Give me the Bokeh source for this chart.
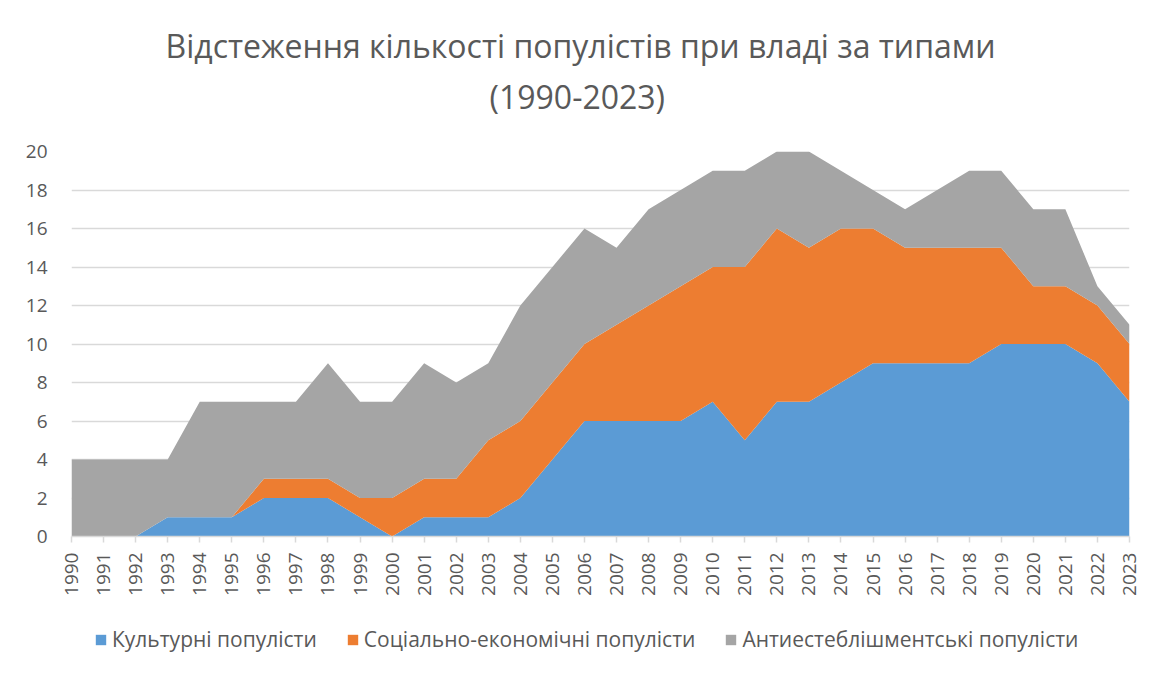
from bokeh.plotting import figure
from bokeh.models import ColumnDataSource, FixedTicker, Title, Legend, Range1d
from bokeh.layouts import column
from bokeh.embed import file_html
from bokeh.resources import INLINE
import math

years = list(range(1990, 2024))
cultural = [0, 0, 0, 1, 1, 1, 2, 2, 2, 1, 0, 1, 1, 1, 2, 4, 6, 6, 6, 6,
            7, 5, 7, 7, 8, 9, 9, 9, 9, 10, 10, 10, 9, 7]
socioeconomic = [0, 0, 0, 0, 0, 0, 1, 1, 1, 1, 2, 2, 2, 4, 4, 4, 4, 5, 6, 7,
                 7, 9, 9, 8, 8, 7, 6, 6, 6, 5, 3, 3, 3, 3]
anti_establishment = [4, 4, 4, 3, 6, 6, 4, 4, 6, 5, 5, 6, 5, 4, 6, 6, 6, 4, 5, 5,
                      5, 5, 4, 5, 3, 2, 2, 3, 4, 4, 4, 4, 1, 1]
series_names = ["Культурні популісти", "Соціально-економічні популісти",
                "Антиестеблішментські популісти"]
title_lines = ["Відстеження кількості популістів при владі за типами", "(1990-2023)"]
y_ticks = list(range(0, 21, 2))

FONT = "Open Sans"
TXT = "#595959"
GRID = "#d9d9d9"
colors = ["#5B9BD5", "#ED7D31", "#A5A5A5"]

source = ColumnDataSource(dict(year=years, cult=cultural, socio=socioeconomic,
                               anti=anti_establishment))

p = figure(frame_width=1058, frame_height=385, output_backend="svg", toolbar_location=None,
           x_range=Range1d(1990, 2023), y_range=Range1d(0, 20),
           min_border_left=71, min_border_right=21, min_border_top=151,
           min_border_bottom=84)

renderers = p.varea_stack(stackers=["cult", "socio", "anti"], x="year", color=colors,
                          source=source)

p.background_fill_color = "white"
p.border_fill_color = "white"
p.outline_line_color = None

# title (two lines)
t2 = Title(text=title_lines[1], align="left", text_font=FONT, text_font_size="32px",
           text_color=TXT, text_font_style="normal", standoff=67, offset=418)
t1 = Title(text=title_lines[0], align="left", text_font=FONT, text_font_size="32px",
           text_color=TXT, text_font_style="normal", standoff=-55, offset=94)
p.add_layout(t2, "above")
p.add_layout(t1, "above")

# axes
p.xaxis.ticker = FixedTicker(ticks=years)
p.xaxis.major_label_orientation = math.pi / 2
p.xaxis.major_label_text_font = FONT
p.xaxis.major_label_text_font_size = "19px"
p.xaxis.major_label_text_color = TXT
p.xaxis.axis_line_color = GRID
p.xaxis.axis_line_width = 1.5
p.xaxis.major_tick_line_color = GRID
p.xaxis.major_tick_line_width = 1.5
p.xaxis.major_tick_in = 0
p.xaxis.major_tick_out = 6
p.xaxis.minor_tick_line_color = None
p.xaxis.major_label_standoff = 10

p.yaxis.ticker = FixedTicker(ticks=y_ticks)
p.yaxis.major_label_text_font = FONT
p.yaxis.major_label_text_font_size = "19px"
p.yaxis.major_label_text_color = TXT
p.yaxis.axis_line_color = None
p.yaxis.major_tick_line_color = None
p.yaxis.minor_tick_line_color = None
p.yaxis.major_label_standoff = 18

p.xgrid.grid_line_color = None
p.ygrid.grid_line_color = GRID
p.ygrid.grid_line_width = 1.5
p.ygrid.ticker = FixedTicker(ticks=y_ticks)

# legend strip below the chart
p2 = figure(width=1150, height=47, output_backend="svg", toolbar_location=None,
            x_range=Range1d(0, 1), y_range=Range1d(0, 1),
            x_axis_type=None, y_axis_type=None,
            min_border_left=0, min_border_right=0, min_border_top=0, min_border_bottom=0)
p2.outline_line_color = None
p2.xgrid.visible = False
p2.ygrid.visible = False
leg_renderers = p2.varea_stack(stackers=["cult", "socio", "anti"], x="year",
                               color=colors, source=source)
legend = Legend(items=[(n, [r]) for n, r in zip(series_names, leg_renderers)],
                orientation="horizontal", location=(23, 14),
                label_text_font=FONT, label_text_font_size="21px",
                label_text_color=TXT, glyph_width=13, glyph_height=13,
                spacing=29, label_standoff=5, border_line_color=None,
                background_fill_alpha=0, padding=0, margin=0)
p2.add_layout(legend, "center")

open("out.html", "w").write(file_html(column(p, p2, spacing=0), INLINE))
